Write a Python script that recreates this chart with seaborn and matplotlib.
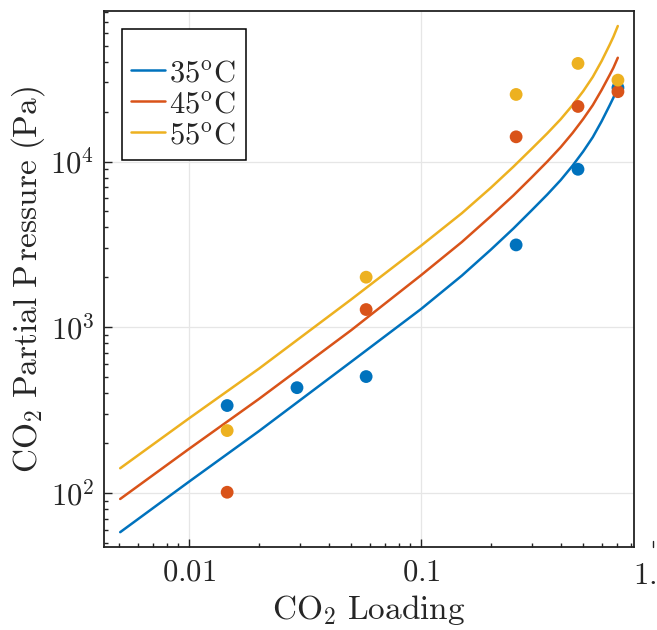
import numpy as np
import pandas as pd
import matplotlib
matplotlib.use("Agg")
import matplotlib.pyplot as plt
from matplotlib.lines import Line2D
import matplotlib.ticker as mticker
import seaborn as sns

# ---- data ----
temps = ["35", "45", "55"]
colors = ["#0072BD", "#D95319", "#EDB120"]

curve_x = [0.00505, 0.01, 0.02, 0.05, 0.1, 0.15, 0.2, 0.25, 0.3, 0.35, 0.4, 0.45,
           0.5, 0.55, 0.6, 0.65, 0.675, 0.705]
curve_35 = [58, 117, 236, 619, 1288, 2050, 2940, 3940, 5080, 6320, 7730, 9440,
            11500, 14030, 17460, 21800, 24300, 28100]
curve_45 = [92, 184.5, 369, 960, 2060, 3270, 4680, 6240, 8030, 9990, 12210, 14870,
            18060, 21890, 26980, 33250, 36800, 42300]
curve_55 = [141, 282, 562, 1472, 3104, 4880, 6950, 9300, 11940, 14790, 18010, 21900,
            26570, 32410, 40330, 50580, 56620, 65750]

pts_x_35 = [0.0146, 0.0292, 0.058, 0.257, 0.475, 0.706]
pts_y_35 = [337, 432, 504, 3140, 8980, 27900]
pts_x_45 = [0.0146, 0.058, 0.257, 0.475, 0.706]
pts_y_45 = [101, 1279, 14100, 21500, 26400]
pts_x_55 = [0.0146, 0.058, 0.257, 0.475, 0.706]
pts_y_55 = [238, 2005, 25400, 39100, 31000]

xtick_vals = [0.01, 0.1, 1.0]
xtick_labels = ["0.01", "0.1", "1.0"]
ytick_vals = [1e2, 1e3, 1e4]
ytick_labels = [r"$10^{2}$", r"$10^{3}$", r"$10^{4}$"]

# ---- tables ----
curves = pd.concat([
    pd.DataFrame({"x": curve_x, "y": c, "T": t})
    for c, t in zip([curve_35, curve_45, curve_55], temps)
])
points = pd.concat([
    pd.DataFrame({"x": px, "y": py, "T": t})
    for px, py, t in zip([pts_x_35, pts_x_45, pts_x_55],
                         [pts_y_35, pts_y_45, pts_y_55], temps)
])
palette = dict(zip(temps, colors))

# ---- style ----
sns.set_theme(style="ticks")
plt.rcParams["mathtext.fontset"] = "cm"
plt.rcParams["font.family"] = ["DejaVu Serif"]

fig = plt.figure(figsize=(6.57, 6.30), dpi=100)
ax = fig.add_axes([104/657, 1-547/630, (634-104)/657, (547-11)/630])

ax.set_xscale("log")
ax.set_yscale("log")

sns.lineplot(data=curves, x="x", y="y", hue="T", palette=palette,
             estimator=None, sort=False, linewidth=1.8, legend=False, ax=ax, zorder=2)
sns.scatterplot(data=points, x="x", y="y", hue="T", palette=palette,
                s=85, linewidth=0, legend=False, ax=ax, zorder=3)

ax.set_xlim(0.0043, 0.828)
ax.set_ylim(47.2, 81000)

ax.xaxis.set_major_locator(mticker.FixedLocator(xtick_vals[:2]))
ax.set_xticklabels([r"$\mathrm{%s}$" % l for l in xtick_labels[:2]])
ax.yaxis.set_major_locator(mticker.FixedLocator(ytick_vals))
ax.set_yticklabels(ytick_labels)
ax.xaxis.set_minor_locator(mticker.LogLocator(base=10, subs=np.arange(2, 10)))
ax.yaxis.set_minor_locator(mticker.LogLocator(base=10, subs=np.arange(2, 10)))
ax.xaxis.set_minor_formatter(mticker.NullFormatter())
ax.yaxis.set_minor_formatter(mticker.NullFormatter())

ax.tick_params(which="both", direction="in", color="#222222", width=1.0,
               labelsize=22, top=False, right=False)
ax.tick_params(which="major", length=6, pad=7)
ax.tick_params(which="minor", length=3)

# the "1.0" tick that sits just beyond the right edge
trans = matplotlib.transforms.blended_transform_factory(ax.transData, ax.transAxes)
ax.plot([xtick_vals[2], xtick_vals[2]], [0, 0.012], transform=trans, color="#222222",
        lw=1.0, clip_on=False)
ax.text(xtick_vals[2], -0.024, r"$\mathrm{%s}$" % xtick_labels[2], transform=trans,
        ha="center", va="top", fontsize=22, clip_on=False)

ax.grid(True, which="major", color="#e6e6e6", linewidth=0.9)
ax.set_axisbelow(True)
for s in ax.spines.values():
    s.set_color("#222222")
    s.set_linewidth(1.3)

ax.set_xlabel(r"$\mathrm{CO_2\ Loading}$", fontsize=24, labelpad=4)
ax.set_ylabel(r"$\mathrm{CO_2\ Partial\ P\,ressure\ (Pa)}$", fontsize=24, labelpad=2)

handles = [Line2D([], [], color=c, lw=1.8) for c in colors]
labels = [r"$\mathrm{%s^{o}C}$" % t for t in temps]
leg = ax.legend(handles, labels, loc="upper left", bbox_to_anchor=(0.0334, 0.966),
                borderaxespad=0, fontsize=22, frameon=True, fancybox=False,
                framealpha=1, edgecolor="black", handlelength=1.1,
                handletextpad=0.12, borderpad=0.32, labelspacing=0.0,
                title=" ", title_fontsize=14)
leg.get_frame().set_linewidth(1.1)

fig.savefig("out.png", dpi=100)
